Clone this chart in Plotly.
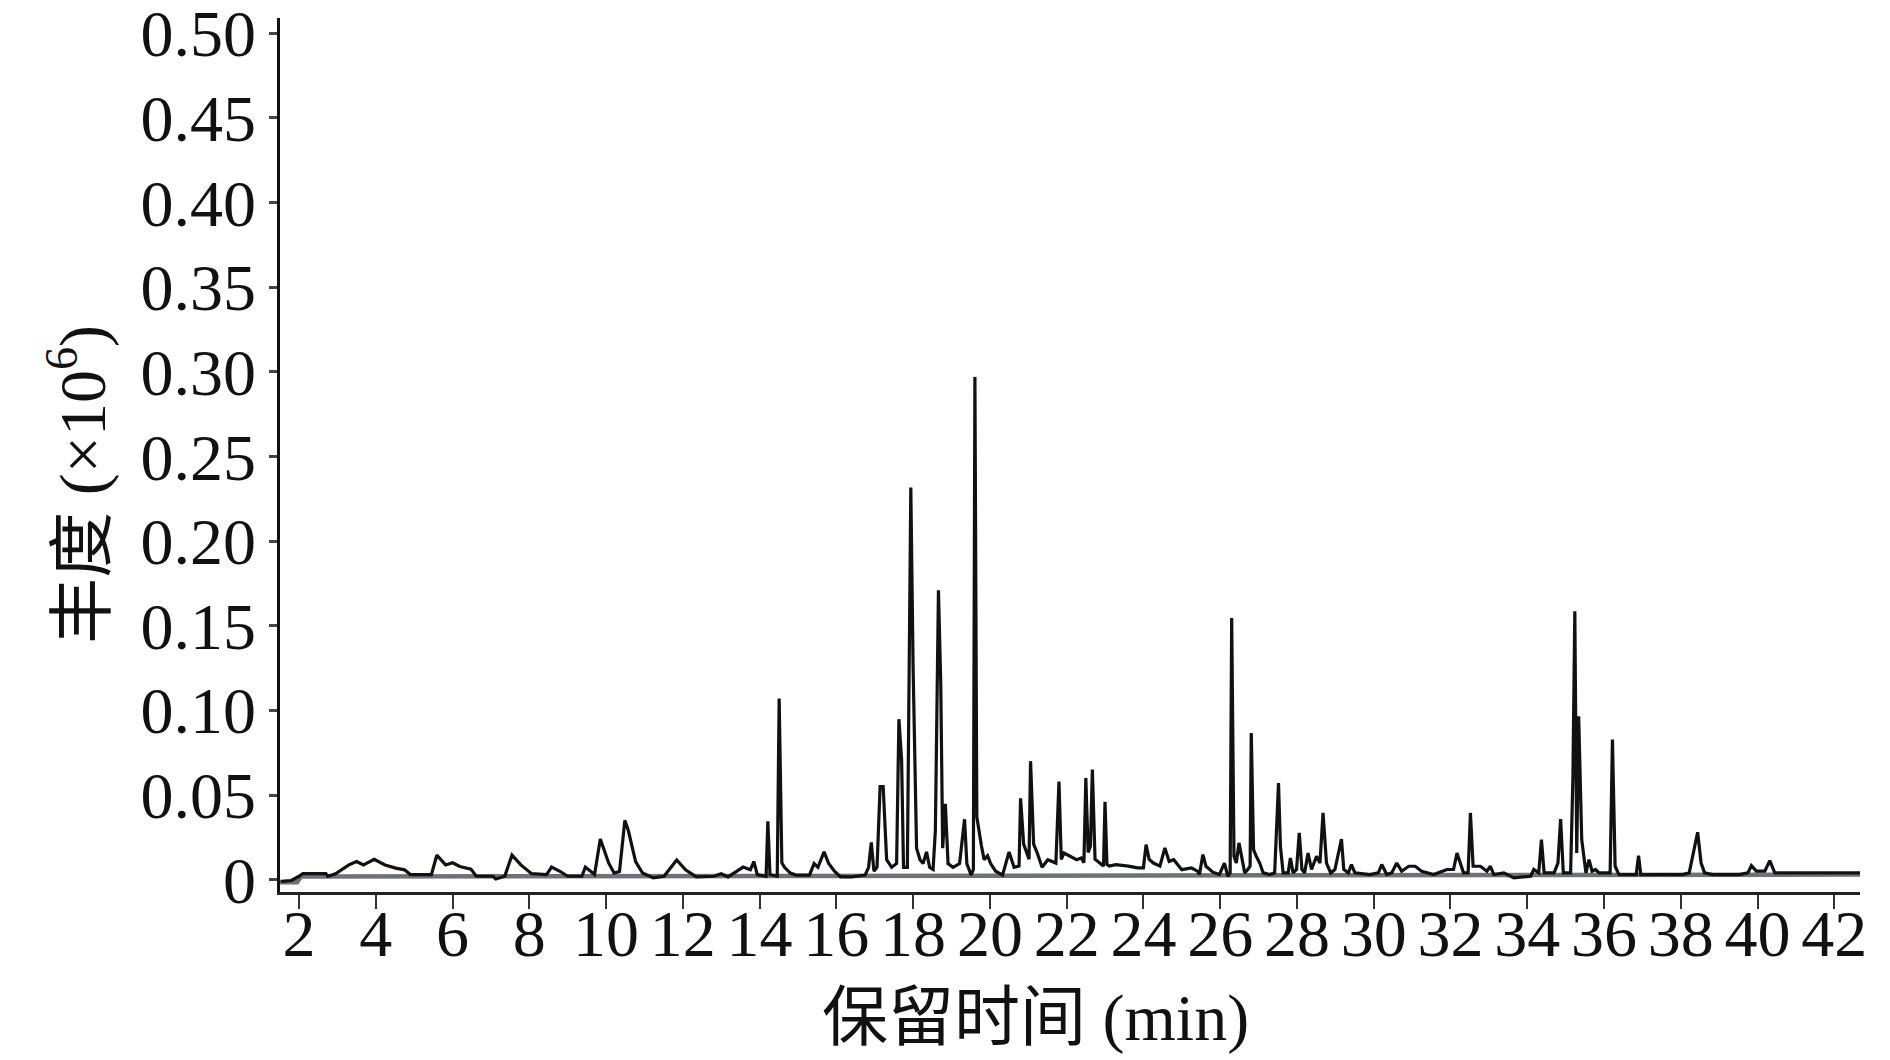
import plotly.graph_objects as go

# Retention time (min) and abundance (x10^6)
retention_time = [
    1.53, 1.80, 2.00, 2.10, 2.70, 2.75, 2.95, 3.30, 3.50, 3.68, 3.96, 4.24, 4.52, 4.75, 4.90,
    5.45, 5.59, 5.82, 6.00, 6.19, 6.48, 6.62, 7.05, 7.13, 7.36, 7.55, 7.78, 8.06, 8.45, 8.58,
    8.81, 9.00, 9.37, 9.46, 9.70, 9.85, 10.07, 10.21, 10.35, 10.49, 10.58, 10.77, 10.95, 11.23,
    11.51, 11.84, 12.07, 12.35, 12.81, 13.00, 13.18, 13.57, 13.76, 13.85, 13.94, 14.17, 14.215,
    14.27, 14.46, 14.51, 14.58, 14.65, 14.80, 14.95, 15.30, 15.42, 15.52, 15.68, 15.80, 15.95,
    16.11, 16.40, 16.75, 16.84, 16.91, 16.98, 17.06, 17.14, 17.22, 17.27, 17.31, 17.44, 17.57,
    17.63, 17.70, 17.75, 17.85, 17.94, 18.00, 18.09, 18.18, 18.26, 18.35, 18.43, 18.52, 18.58,
    18.66, 18.72, 18.77, 18.84, 18.91, 19.04, 19.21, 19.34, 19.40, 19.51, 19.57, 19.61, 19.66,
    19.78, 19.85, 19.94, 20.02, 20.15, 20.33, 20.50, 20.63, 20.76, 20.80, 20.88, 21.02, 21.06,
    21.14, 21.23, 21.36, 21.51, 21.72, 21.80, 21.86, 21.93, 22.10, 22.26, 22.38, 22.45, 22.50,
    22.56, 22.62, 22.67, 22.74, 22.87, 22.96, 23.00, 23.05, 23.11, 23.28, 23.61, 23.85, 24.00,
    24.07, 24.15, 24.26, 24.43, 24.56, 24.67, 24.79, 25.00, 25.25, 25.41, 25.46, 25.55, 25.63,
    25.81, 25.98, 26.11, 26.20, 26.26, 26.30, 26.36, 26.42, 26.49, 26.55, 26.64, 26.72, 26.78,
    26.81, 26.87, 26.94, 27.03, 27.12, 27.29, 27.42, 27.46, 27.52, 27.57, 27.64, 27.77, 27.83,
    27.90, 27.99, 28.06, 28.13, 28.20, 28.29, 28.38, 28.51, 28.60, 28.68, 28.77, 28.88, 28.99,
    29.16, 29.22, 29.34, 29.42, 29.51, 29.90, 30.12, 30.21, 30.34, 30.47, 30.60, 30.73, 30.91,
    31.08, 31.25, 31.56, 31.91, 32.08, 32.17, 32.34, 32.46, 32.52, 32.59, 32.78, 32.95, 33.04,
    33.13, 33.39, 33.65, 34.09, 34.17, 34.30, 34.37, 34.44, 34.70, 34.80, 34.87, 34.94, 35.13,
    35.19, 35.24, 35.29, 35.34, 35.42, 35.53, 35.61, 35.69, 35.78, 35.87, 36.16, 36.22, 36.29,
    36.39, 36.84, 36.90, 36.96, 38.05, 38.22, 38.35, 38.44, 38.53, 38.62, 38.83, 39.53, 39.75,
    39.84, 39.97, 40.19, 40.32, 40.45, 40.75, 42.67,
]
abundance = [
    -0.001, -0.0005, 0.002, 0.0035, 0.0035, 0.002, 0.0035, 0.0087, 0.0107, 0.0087, 0.012, 0.0087,
    0.0068, 0.0058, 0.003, 0.003, 0.0145, 0.0087, 0.010, 0.0078, 0.0062, 0.002, 0.002, 0.0004,
    0.002, 0.0145, 0.0087, 0.0035, 0.003, 0.0074, 0.0048, 0.002, 0.002, 0.0074, 0.003, 0.024,
    0.0097, 0.0039, 0.0048, 0.035, 0.029, 0.0107, 0.0039, 0.001, 0.002, 0.0116, 0.0058, 0.0016,
    0.002, 0.0035, 0.0016, 0.0074, 0.0058, 0.0107, 0.003, 0.002, 0.0345, 0.003, 0.002, 0.107,
    0.010, 0.0073, 0.0039, 0.0027, 0.0027, 0.0095, 0.0073, 0.0164, 0.0095, 0.005, 0.0016, 0.0016,
    0.0027, 0.0073, 0.022, 0.005, 0.0073, 0.055, 0.055, 0.0255, 0.0118, 0.0073, 0.0095, 0.0948,
    0.0709, 0.0073, 0.0073, 0.2316, 0.125, 0.0186, 0.0118, 0.0095, 0.0164, 0.0073, 0.006, 0.029,
    0.171, 0.116, 0.0186, 0.0448, 0.0095, 0.0073, 0.0095, 0.0357, 0.0095, 0.0027, 0.006, 0.297,
    0.037, 0.020, 0.0118, 0.0141, 0.0095, 0.005, 0.0027, 0.0164, 0.0073, 0.008, 0.048, 0.021,
    0.012, 0.070, 0.021, 0.016, 0.0073, 0.0118, 0.0098, 0.058, 0.012, 0.0157, 0.0138, 0.0118,
    0.0128, 0.010, 0.060, 0.016, 0.0197, 0.065, 0.012, 0.0098, 0.008, 0.046, 0.009, 0.008, 0.0089,
    0.008, 0.007, 0.007, 0.0207, 0.012, 0.0098, 0.008, 0.0187, 0.0108, 0.0118, 0.0059, 0.0069,
    0.005, 0.003, 0.0148, 0.0079, 0.0044, 0.003, 0.0098, 0.002, 0.004, 0.1546, 0.0138, 0.0098,
    0.0217, 0.0138, 0.004, 0.006, 0.008, 0.0866, 0.0177, 0.0138, 0.0098, 0.004, 0.003, 0.004,
    0.030, 0.057, 0.0197, 0.004, 0.004, 0.0128, 0.004, 0.006, 0.0276, 0.006, 0.004, 0.0157, 0.006,
    0.0138, 0.0098, 0.0394, 0.0098, 0.004, 0.006, 0.024, 0.006, 0.004, 0.0089, 0.004, 0.003, 0.004,
    0.0089, 0.003, 0.004, 0.0098, 0.005, 0.0079, 0.0079, 0.005, 0.003, 0.006, 0.006, 0.0157, 0.004,
    0.004, 0.0394, 0.0079, 0.0079, 0.005, 0.0079, 0.003, 0.004, 0.001, 0.002, 0.006, 0.004, 0.0236,
    0.004, 0.004, 0.0098, 0.0358, 0.004, 0.004, 0.060, 0.1585, 0.0157, 0.0965, 0.0236, 0.004,
    0.0118, 0.005, 0.006, 0.004, 0.004, 0.0827, 0.0079, 0.003, 0.003, 0.0142, 0.003, 0.003, 0.004,
    0.0197, 0.028, 0.0098, 0.004, 0.003, 0.003, 0.004, 0.0083, 0.005, 0.005, 0.0112, 0.004, 0.004,
    0.004,
]

# grey baseline band under the trace
baseline_time = [1.50, 1.95, 2.05, 42.67]
baseline_abundance = [-0.0015, -0.0015, 0.0018, 0.003]

x_ticks = list(range(2, 43, 2))
y_tick_vals = [0, 0.05, 0.10, 0.15, 0.20, 0.25, 0.30, 0.35, 0.40, 0.45, 0.50]
y_tick_text = ["0", "0.05", "0.10", "0.15", "0.20", "0.25", "0.30", "0.35", "0.40", "0.45", "0.50"]

x_title = "保留时间 (min)"
y_title = "丰度 (×10<sup>6</sup>)"

FONT = "Liberation Serif, Times New Roman, Noto Sans CJK SC, serif"
FS = 66

fig = go.Figure()
fig.add_trace(go.Scatter(
    x=baseline_time, y=baseline_abundance, mode="lines",
    line=dict(color="#6e717a", width=4.5), hoverinfo="skip", showlegend=False,
))
fig.add_trace(go.Scatter(
    x=retention_time, y=abundance, mode="lines",
    line=dict(color="#111111", width=3.2), showlegend=False,
))

fig.update_layout(
    width=1890, height=1060,
    margin=dict(l=280, r=30, t=18, b=168),
    paper_bgcolor="white", plot_bgcolor="white",
    font=dict(family=FONT, size=FS, color="#111111"),
    xaxis=dict(
        range=[1.505, 42.67], tickvals=x_ticks, ticktext=[str(v) for v in x_ticks],
        showgrid=False, zeroline=False, showline=True, linecolor="#222222", linewidth=3,
        ticks="outside", ticklen=14, tickwidth=2, tickcolor="#333333",
        tickfont=dict(family=FONT, size=FS, color="#111111"),
        ticklabelstandoff=-32, automargin=False,
    ),
    yaxis=dict(
        range=[-0.0073, 0.509], tickvals=y_tick_vals, ticktext=y_tick_text,
        showgrid=False, zeroline=False, showline=True, linecolor="#111111", linewidth=2.5,
        ticks="outside", ticklen=8, tickwidth=2.5, tickcolor="#444444",
        tickfont=dict(family=FONT, size=FS, color="#111111"),
        ticklabelstandoff=0, ticklabeloverflow="allow", automargin=False,
    ),
    annotations=[
        dict(text=x_title, xref="paper", yref="paper", x=0.478, y=-0.144,
             xanchor="center", yanchor="middle", showarrow=False,
             font=dict(family=FONT, size=FS, color="#111111")),
        dict(text=y_title, xref="paper", yref="paper", x=-0.1278, y=0.466,
             xanchor="center", yanchor="middle", showarrow=False, textangle=-90,
             font=dict(family=FONT, size=FS, color="#111111")),
    ],
)

fig.write_html("out.html", config={"displayModeBar": False},
               post_script="document.body.style.margin='0px';")
